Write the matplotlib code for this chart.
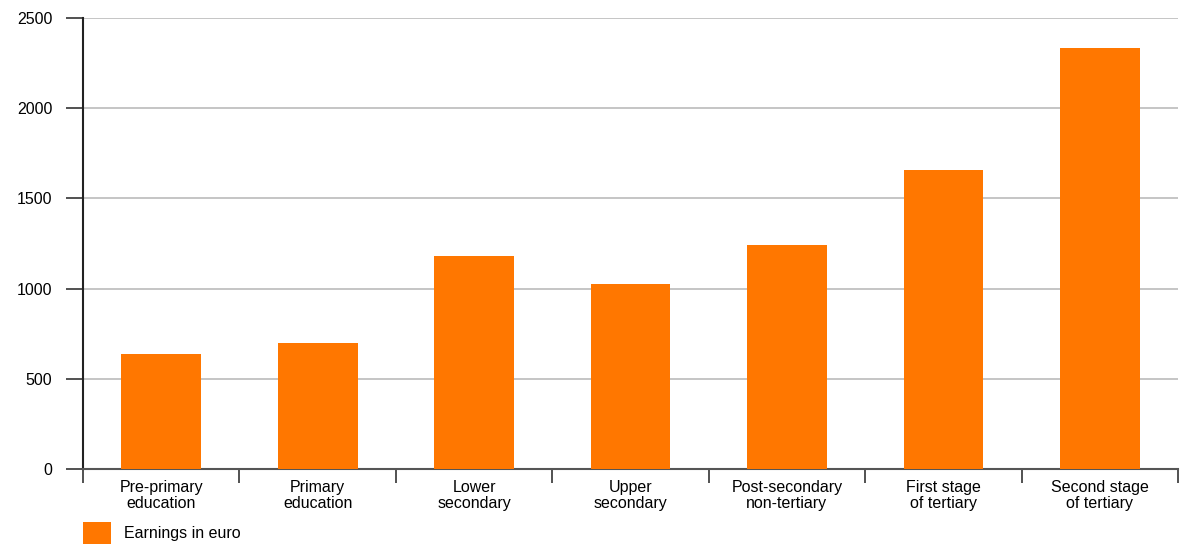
import matplotlib.pyplot as plt
import numpy as np

# datos del grafico
categorias = ["Pre-primary\neducation", "Primary\neducation", "Lower\nsecondary",
              "Upper\nsecondary", "Post-secondary\nnon-tertiary", "First stage\nof tertiary",
              "Second stage\nof tertiary"]
ganancias = [640, 700, 1182, 1028, 1244, 1660, 2333]
yticks = [0, 500, 1000, 1500, 2000, 2500]
serie = "Earnings in euro"

plt.rcParams['font.family'] = ['Liberation Sans', 'DejaVu Sans']

fig = plt.figure(figsize=(11.81, 5.44), dpi=100)
ax = fig.add_axes([0.0703, 0.1379, 0.9272, 0.829])

x = np.arange(len(categorias))
ax.bar(x, ganancias, width=0.51, color='#ff7700', label=serie, zorder=3)

ax.set_xlim(-0.5, len(categorias) - 0.5)
ax.set_ylim(0, 2500)
ax.set_yticks(yticks)
ax.set_yticklabels([str(v) for v in yticks], fontsize=11.5)
ax.yaxis.grid(True, color='#bbbbbb', linewidth=1.2, zorder=0)

# ticks del eje x en los limites entre categorias, etiquetas centradas
ax.set_xticks(np.arange(-0.5, len(categorias), 1))
ax.set_xticklabels([])
ax.set_xticks(x, minor=True)
ax.set_xticklabels(categorias, minor=True, fontsize=11.5, linespacing=1.05)
ax.tick_params(axis='x', which='minor', length=0, pad=8)
ax.tick_params(axis='x', which='major', length=10, width=1.2, color='#333333')
ax.tick_params(axis='y', length=12, width=1.2, color='#333333', pad=10)

for s in ['top', 'right']:
    ax.spines[s].set_visible(False)
ax.spines['left'].set_color('#222222')
ax.spines['left'].set_linewidth(1.5)
ax.spines['bottom'].set_color('#555555')
ax.spines['bottom'].set_linewidth(1.5)

fig.legend(loc='lower left', bbox_to_anchor=(0.058, -0.026), frameon=False, fontsize=11.5,
           handlelength=1.75, handleheight=1.7, handletextpad=0.8)

fig.savefig("out.png", dpi=100)
